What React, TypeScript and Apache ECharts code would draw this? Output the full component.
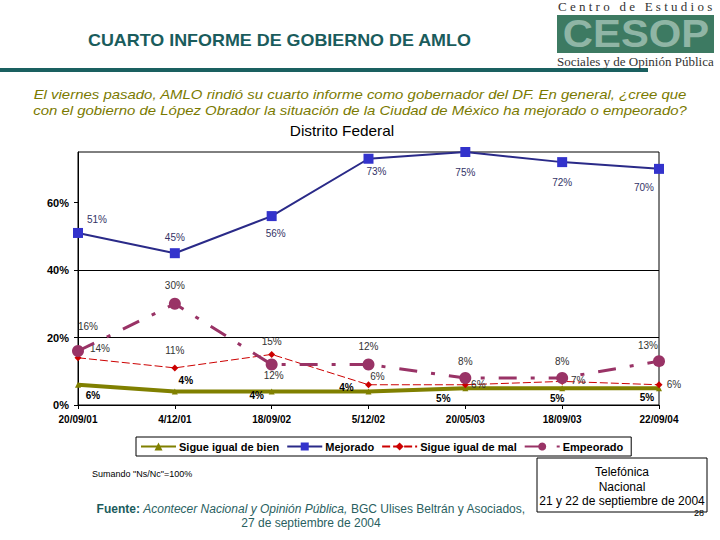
import React, { useEffect, useRef } from "react";
import * as echarts from "echarts";

const categories = ["20/09/01", "4/12/01", "18/09/02", "5/12/02", "20/05/03", "18/09/03", "22/09/04"];
const sigueBien = [6, 4, 4, 4, 5, 5, 5];
const mejorado = [51, 45, 56, 73, 75, 72, 70];
const sigueMal = [14, 11, 15, 6, 6, 7, 6];
const empeorado = [16, 30, 12, 12, 8, 8, 13];
const yTicks = [0, 20, 40, 60];

// label offsets (style only)
const offBien = [[15, 11], [11, -11], [-15, 4], [-22, -4], [-22, 10], [-5, 10], [-12, 9]];
const offMej = [[19, -13], [0, -16], [4, 17], [8, 13], [0, 20], [0, 20], [-15, 19]];
const offMal = [[22, -9], [0, -17], [0, -13], [9, -8], [13, 0], [16, -1], [15, 0]];
const offEmp = [[10, -25], [0, -18], [2, 11], [0, -18], [0, -17], [0, -17], [-11, -16]];

const FONT = "Liberation Sans, Arial, sans-serif";
const SERIF = "Liberation Serif, DejaVu Serif, serif";

function mk(values: number[], offs: number[][], color: string, bold: boolean) {
  return values.map((v, i) => ({
    value: v,
    label: {
      show: true,
      position: "inside",
      offset: offs[i],
      formatter: "{c}%",
      color,
      fontSize: 10,
      fontWeight: bold ? "bold" : "normal",
      fontFamily: FONT,
    },
  }));
}

export default function App() {
  const ref = useRef<HTMLDivElement>(null);
  useEffect(() => {
    const chart = echarts.init(ref.current!, null, { renderer: "svg" });
    chart.setOption({
      animation: false,
      backgroundColor: "#fff",
      grid: { left: 78, right: 61, top: 152, bottom: 135, show: true, borderColor: "#000", borderWidth: 1 },
      legend: {
        left: 136,
        top: 437,
        width: 500,
        height: 22,
        padding: [4, 8, 4, 4],
        borderColor: "#000",
        borderWidth: 1,
        itemGap: 7,
        itemWidth: 35,
        itemHeight: 10,
        textStyle: { fontFamily: FONT, fontWeight: "bold", fontSize: 11, color: "#000", padding: [0, 0, 0, -2] },
        data: ["Sigue igual de bien", "Mejorado", "Sigue igual de mal", "Empeorado"],
      },
      xAxis: {
        type: "category",
        data: categories,
        boundaryGap: false,
        axisLine: { lineStyle: { color: "#000" } },
        axisTick: { show: true, alignWithLabel: true, length: 4, lineStyle: { color: "#000" } },
        axisLabel: { fontFamily: FONT, fontWeight: "bold", fontSize: 10, color: "#000", margin: 9 },
        splitLine: { show: false },
      },
      yAxis: {
        type: "value",
        min: yTicks[0],
        max: 75,
        interval: 20,
        axisLine: { show: true, lineStyle: { color: "#000" } },
        axisTick: { show: true, length: 4, inside: false, lineStyle: { color: "#000" } },
        axisLabel: {
          fontFamily: FONT,
          fontWeight: "bold",
          fontSize: 11,
          color: "#000",
          showMaxLabel: false,
          margin: 9,
          formatter: (v: number) => (yTicks.includes(v) ? v + "%" : ""),
        },
        splitLine: { show: true, lineStyle: { color: ["transparent", "#000", "#000", "transparent", "transparent"] } },
      },
      series: [
        {
          name: "Sigue igual de bien",
          type: "line",
          data: mk(sigueBien, offBien, "#000", true),
          symbol: "triangle",
          symbolSize: 6,
          itemStyle: { color: "#808000" },
          lineStyle: { color: "#808000", width: 4 },
          z: 2,
        },
        {
          name: "Mejorado",
          type: "line",
          data: mk(mejorado, offMej, "#333366", false),
          symbol: "rect",
          symbolSize: 10,
          itemStyle: { color: "#3333cc" },
          lineStyle: { color: "#2a2a88", width: 2 },
          z: 3,
        },
        {
          name: "Sigue igual de mal",
          type: "line",
          data: mk(sigueMal, offMal, "#333", false),
          symbol: "diamond",
          symbolSize: 7,
          itemStyle: { color: "#cc0000" },
          lineStyle: { color: "#cc0000", width: 1, type: [8, 3] },
          z: 4,
        },
        {
          name: "Empeorado",
          type: "line",
          data: mk(empeorado, offEmp, "#333", false),
          symbol: "circle",
          symbolSize: 12,
          itemStyle: { color: "#993366" },
          lineStyle: { color: "#993366", width: 3, type: [18, 14, 4, 14] },
          z: 5,
        },
      ],
      graphic: [
        {
          type: "text",
          x: 88,
          y: 33,
          scaleX: 1.12,
          style: { text: "CUARTO INFORME DE GOBIERNO DE AMLO", font: `bold 16px ${FONT}`, fill: "#1a5c5c" },
        },
        { type: "rect", shape: { x: 0, y: 68, width: 648, height: 4 }, style: { fill: "#1a6060" } },
        // logo
        {
          type: "text",
          x: 558,
          y: 0,
          style: { text: "C e n t r o   d e   E s t u d i o s", font: `13px ${SERIF}`, fill: "#333" },
        },
        { type: "rect", shape: { x: 557, y: 15, width: 157, height: 38 }, style: { fill: "#3d7a62" } },
        {
          type: "text",
          x: 636,
          y: 34,
          scaleX: 1.1,
          style: {
            text: "CESOP",
            font: `bold 38px ${FONT}`,
            fill: "#8fb5a5",
            align: "center",
            verticalAlign: "middle",
          },
        },
        {
          type: "text",
          x: 557,
          y: 55,
          style: { text: "Sociales y de Opinión Pública", font: `13px ${SERIF}`, fill: "#333" },
        },
        {
          type: "text",
          x: 360,
          y: 86,
          scaleX: 1.15,
          style: {
            text: "El viernes pasado, AMLO rindió su cuarto informe como gobernador del DF. En general, ¿cree que\ncon el gobierno de López Obrador la situación de la Ciudad de México ha mejorado o empeorado?",
            font: `italic 13px ${FONT}`,
            fill: "#7a7a00",
            align: "center",
            lineHeight: 16,
          },
        },
        {
          type: "text",
          x: 342,
          y: 124,
          scaleX: 1.1,
          style: { text: "Distrito Federal", font: `14px ${FONT}`, fill: "#000", align: "center" },
        },
        {
          type: "text",
          x: 92,
          y: 469,
          style: { text: 'Sumando "Ns/Nc"=100%', font: `9px ${FONT}`, fill: "#000" },
        },
        {
          type: "text",
          x: 311,
          y: 502,
          style: {
            text: "{b|Fuente:} {i|Acontecer Nacional y Opinión Pública,} BGC Ulises Beltrán y Asociados,\n27 de septiembre de 2004",
            font: `12px ${FONT}`,
            fill: "#2a5f5f",
            align: "center",
            lineHeight: 14,
            rich: {
              b: { fontWeight: "bold", fontSize: 12, fontFamily: FONT, fill: "#1a5c5c" },
              i: { fontStyle: "italic", fontSize: 12, fontFamily: FONT, fill: "#2a5f5f" },
            },
          },
        },
        {
          type: "rect",
          shape: { x: 537, y: 458, width: 170, height: 54 },
          style: { fill: "#fff", stroke: "#000", lineWidth: 1 },
        },
        {
          type: "text",
          x: 622,
          y: 465,
          style: {
            text: "Telefónica\nNacional\n21 y 22 de septiembre de 2004",
            font: `12px ${FONT}`,
            fill: "#000",
            align: "center",
            lineHeight: 14.5,
          },
        },
        { type: "text", x: 694, y: 508, style: { text: "28", font: `9px ${FONT}`, fill: "#000" } },
      ],
    });
    return () => chart.dispose();
  }, []);
  return (
    <div
      ref={ref}
      style={{ position: "fixed", left: 0, top: 0, width: 720, height: 540, background: "#fff" }}
    />
  );
}
